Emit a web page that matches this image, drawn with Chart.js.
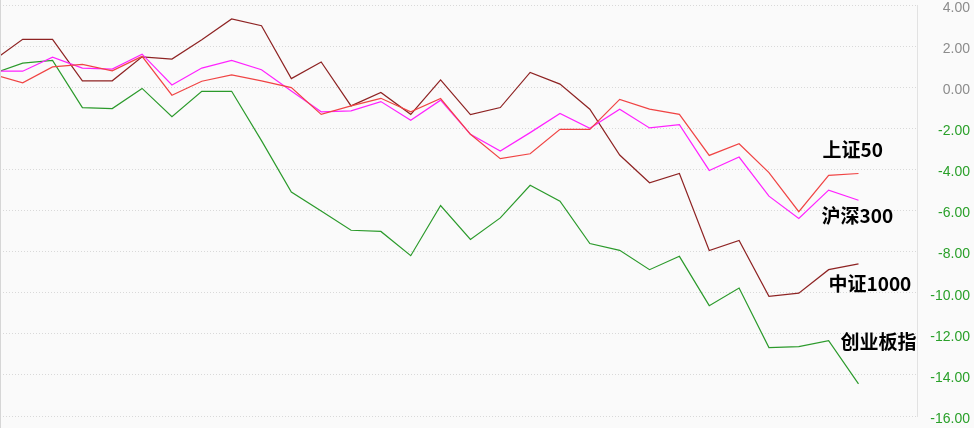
<!DOCTYPE html>
<html>
<head>
<meta charset="utf-8">
<script src="https://cdn.jsdelivr.net/npm/chart.js@4.4.0/dist/chart.umd.min.js"></script>
<style>
    html, body { margin: 0; padding: 0; background: #fafafa; }
    .wrap { position: relative; width: 974px; height: 428px; }
    .edge { position: absolute; left: 0; top: 0; width: 1px; height: 428px; background: #d6d6d6; }
</style>
</head>
<body>
<div class="wrap">
    <canvas id="indexChart" width="974" height="428"></canvas>
    <div class="edge"></div>
</div>
<script>
// trading days (index only, no dates shown on the chart)
const days = [0, 1, 2, 3, 4, 5, 6, 7, 8, 9, 10, 11, 12, 13, 14, 15, 16, 17, 18, 19, 20, 21, 22, 23, 24, 25, 26, 27, 28, 29];

// cumulative change, %
const sz50   = [0.62, 0.21, 0.99, 1.11, 0.80, 1.50, -0.39, 0.29, 0.60, 0.31, -0.02, -1.32, -0.91, -0.54, -1.20, -0.55, -2.29, -3.48, -3.24, -2.05, -2.05, -0.59, -1.07, -1.32, -3.32, -2.75, -4.16, -6.06, -4.29, -4.20];
const hs300  = [0.78, 0.78, 1.46, 0.93, 0.88, 1.61, 0.11, 0.93, 1.30, 0.85, -0.18, -1.20, -1.15, -0.70, -1.61, -0.63, -2.29, -3.11, -2.21, -1.28, -2.00, -1.07, -1.98, -1.82, -4.05, -3.40, -5.30, -6.39, -5.01, -5.50];
const zz1000 = [1.28, 2.33, 2.33, 0.31, 0.31, 1.48, 1.37, 2.31, 3.32, 2.99, 0.42, 1.23, -0.91, -0.26, -1.32, 0.36, -1.33, -0.99, 0.72, 0.15, -1.07, -3.30, -4.65, -4.20, -7.95, -7.46, -10.18, -10.02, -8.88, -8.60];
const cyb    = [0.66, 1.17, 1.30, -0.99, -1.04, -0.06, -1.43, -0.20, -0.20, -2.60, -5.10, -6.03, -6.96, -7.02, -8.20, -5.76, -7.41, -6.36, -4.77, -5.55, -7.61, -7.94, -8.88, -8.23, -10.63, -9.77, -12.67, -12.62, -12.33, -14.44];

const seriesNames = ['上证50', '沪深300', '中证1000', '创业板指'];
const yTicks = [4, 2, 0, -2, -4, -6, -8, -10, -12, -14, -16];

const lineColors = ['#f04444', '#ff22ff', '#8e2323', '#2b9a2b'];
// label placement relative to the last point of each line
const labelOffsets = [[-36, -24], [-37, 16], [-30, 20], [-18, -42]];

const toPoints = values => values.map((v, i) => ({ x: days[i], y: v }));

const endLabels = {
    id: 'endLabels',
    afterDatasetsDraw(chart) {
        const ctx = chart.ctx;
        ctx.save();
        ctx.font = 'bold 19px "Noto Sans CJK SC", sans-serif';
        ctx.fillStyle = '#000';
        ctx.textAlign = 'left';
        ctx.textBaseline = 'middle';
        chart.data.datasets.forEach((ds, i) => {
            const meta = chart.getDatasetMeta(i);
            const last = meta.data[meta.data.length - 1];
            ctx.fillText(ds.label, last.x + labelOffsets[i][0], last.y + labelOffsets[i][1]);
        });
        ctx.restore();
    }
};

new Chart(document.getElementById('indexChart'), {
    type: 'line',
    data: {
        datasets: [sz50, hs300, zz1000, cyb].map((values, i) => ({
            label: seriesNames[i],
            data: toPoints(values),
            borderColor: lineColors[i],
            borderWidth: 1.2,
            pointRadius: 0,
            tension: 0
        }))
    },
    options: {
        responsive: false,
        animation: false,
        layout: { padding: { top: 5, bottom: 12, left: 0, right: 4 } },
        plugins: {
            legend: { display: false },
            tooltip: { enabled: false }
        },
        scales: {
            x: {
                type: 'linear',
                display: false,
                min: 0.24,
                max: 30.96
            },
            y: {
                position: 'right',
                min: -16,
                max: 4,
                afterFit: scale => {
                    scale.width = 53;
                    scale.paddingTop = 0;
                    scale.paddingBottom = 0;
                },
                afterBuildTicks: scale => {
                    scale.ticks = yTicks.map(v => ({ value: v }));
                },
                grid: {
                    color: '#d9d9d9',
                    drawTicks: false,
                    tickLength: 0,
                    lineWidth: 1
                },
                border: {
                    display: true,
                    color: '#e2e2e2',
                    dash: [1, 2]
                },
                ticks: {
                    crossAlign: 'far',
                    padding: 4,
                    labelOffset: 3,
                    font: { family: 'Liberation Sans', size: 14 },
                    color: c => c.tick && c.tick.value < 0 ? '#2aa02a' : '#8c8c8c',
                    callback: v => v.toFixed(2)
                }
            }
        }
    },
    plugins: [endLabels]
});
</script>
</body>
</html>
